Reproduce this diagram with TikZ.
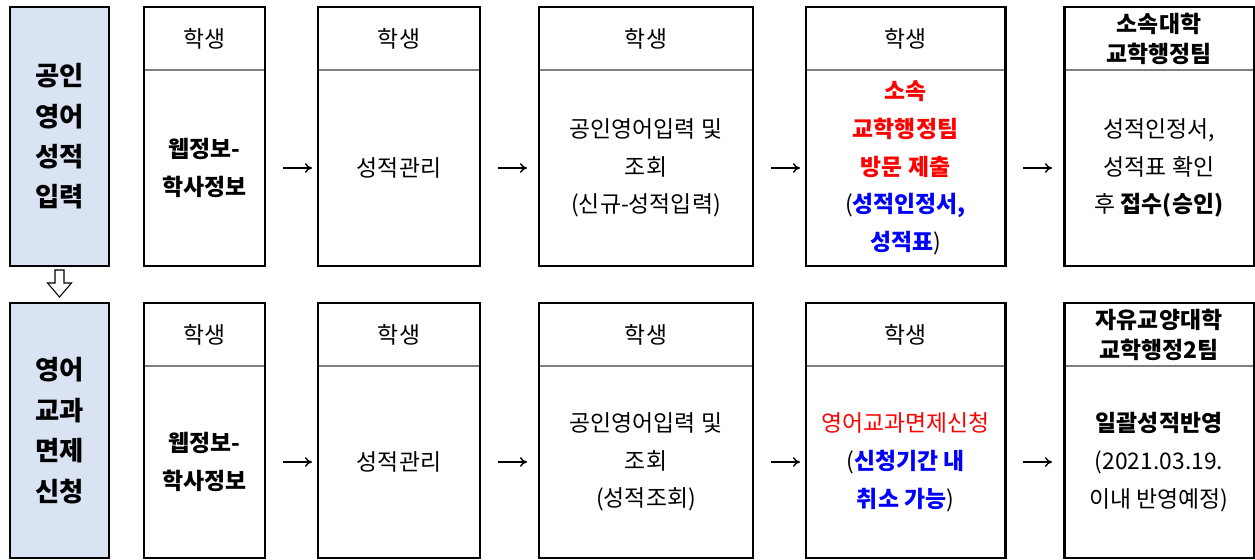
\documentclass[tikz,border=0pt]{standalone}
\usepackage{fontspec}
\setmainfont{Noto Sans CJK KR}
\usetikzlibrary{arrows.meta}
\definecolor{stagefill}{RGB}{218,227,243}
\definecolor{notered}{RGB}{255,0,0}
\definecolor{noteblue}{RGB}{0,0,255}
\tikzset{
  stagecell/.style={inner sep=0pt, outer sep=0pt, anchor=north west, align=center, fill=stagefill, font=\bfseries\fontsize{15}{23}\selectfont},
  headcell/.style={inner sep=0pt, outer sep=0pt, anchor=north west, minimum height=1.26cm, align=center, font=\fontsize{13}{17}\selectfont},
  bodycell/.style={inner sep=0pt, outer sep=0pt, anchor=north west, align=center, font=\fontsize{13}{21.5}\selectfont},
  frame/.style={line width=1.7pt},
  divider/.style={line width=1pt, gray},
  flowarrow/.style={-{To[length=4pt,width=5.5pt]}, line width=0.8pt, shorten <=0.36cm},
}
\begin{document}
\begin{tikzpicture}
\useasboundingbox (0,0) rectangle (25.1,-11.2);
% first row: 공인영어 성적입력
\node[stagecell, minimum width=1.98cm, minimum height=5.18cm] (s1) at (0.2,-0.14) {공인\\영어\\성적\\입력};
\draw[frame] (s1.north west) rectangle (s1.south east);
\node[headcell, minimum width=2.42cm] (h12) at (2.88,-0.14) {학생};
\node[bodycell, minimum width=2.42cm, minimum height=3.92cm] (b12) at (h12.south west) {\textbf{웹정보-}\\\textbf{학사정보}};
\node[headcell, minimum width=3.24cm] (h13) at (6.36,-0.14) {학생};
\node[bodycell, minimum width=3.24cm, minimum height=3.92cm] (b13) at (h13.south west) {성적관리};
\node[headcell, minimum width=4.28cm] (h14) at (10.78,-0.14) {학생};
\node[bodycell, minimum width=4.28cm, minimum height=3.92cm] (b14) at (h14.south west) {공인영어입력 및\\조회\\(신규-성적입력)};
\node[headcell, minimum width=3.98cm] (h15) at (16.12,-0.14) {학생};
\node[bodycell, minimum width=3.98cm, minimum height=3.92cm] (b15) at (h15.south west) {\textcolor{notered}{\textbf{소속}}\\\textcolor{notered}{\textbf{교학행정팀}}\\\textcolor{notered}{\textbf{방문 제출}}\\(\textcolor{noteblue}{\textbf{성적인정서,}}\\\textcolor{noteblue}{\textbf{성적표}})};
\node[headcell, minimum width=3.80cm] (h16) at (21.28,-0.14) {\textbf{소속대학}\\\textbf{교학행정팀}};
\node[bodycell, minimum width=3.80cm, minimum height=3.92cm] (b16) at (h16.south west) {성적인정서,\\성적표 확인\\후 \textbf{접수(승인)}};
\foreach \c in {2,...,6} {
  \draw[divider] (h1\c.south west) -- (h1\c.south east);
  \draw[frame] (h1\c.north west) rectangle (b1\c.south east);
}
\draw[flowarrow, shorten >=0.12cm] (b12.east) -- (b13.west);
\draw[flowarrow, shorten >=0.24cm] (b13.east) -- (b14.west);
\draw[flowarrow, shorten >=0.12cm] (b14.east) -- (b15.west);
\draw[flowarrow, shorten >=0.24cm] (b15.east) -- (b16.west);
% down arrow
\draw[line width=0.6pt, fill=white] (1.1,-5.40) -- (1.28,-5.40) -- (1.28,-5.66) -- (1.43,-5.66) -- (1.19,-5.94) -- (0.95,-5.66) -- (1.1,-5.66) -- cycle;
% second row: 영어교과 면제신청
\node[stagecell, minimum width=1.98cm, minimum height=5.10cm] (s2) at (0.2,-6.06) {영어\\교과\\면제\\신청};
\draw[frame] (s2.north west) rectangle (s2.south east);
\node[headcell, minimum width=2.42cm] (h22) at (2.88,-6.06) {학생};
\node[bodycell, minimum width=2.42cm, minimum height=3.84cm] (b22) at (h22.south west) {\textbf{웹정보-}\\\textbf{학사정보}};
\node[headcell, minimum width=3.24cm] (h23) at (6.36,-6.06) {학생};
\node[bodycell, minimum width=3.24cm, minimum height=3.84cm] (b23) at (h23.south west) {성적관리};
\node[headcell, minimum width=4.28cm] (h24) at (10.78,-6.06) {학생};
\node[bodycell, minimum width=4.28cm, minimum height=3.84cm] (b24) at (h24.south west) {공인영어입력 및\\조회\\(성적조회)};
\node[headcell, minimum width=3.98cm] (h25) at (16.12,-6.06) {학생};
\node[bodycell, minimum width=3.98cm, minimum height=3.84cm] (b25) at (h25.south west) {\textcolor{notered}{영어교과면제신청}\\(\textcolor{noteblue}{\textbf{신청기간 내}}\\\textcolor{noteblue}{\textbf{취소 가능}})};
\node[headcell, minimum width=3.80cm] (h26) at (21.28,-6.06) {\textbf{자유교양대학}\\\textbf{교학행정2팀}};
\node[bodycell, minimum width=3.80cm, minimum height=3.84cm] (b26) at (h26.south west) {\textbf{일괄성적반영}\\(2021.03.19.\\이내 반영예정)};
\foreach \c in {2,...,6} {
  \draw[divider] (h2\c.south west) -- (h2\c.south east);
  \draw[frame] (h2\c.north west) rectangle (b2\c.south east);
}
\draw[flowarrow, shorten >=0.12cm] (b22.east) -- (b23.west);
\draw[flowarrow, shorten >=0.24cm] (b23.east) -- (b24.west);
\draw[flowarrow, shorten >=0.12cm] (b24.east) -- (b25.west);
\draw[flowarrow, shorten >=0.24cm] (b25.east) -- (b26.west);
\end{tikzpicture}
\end{document}
